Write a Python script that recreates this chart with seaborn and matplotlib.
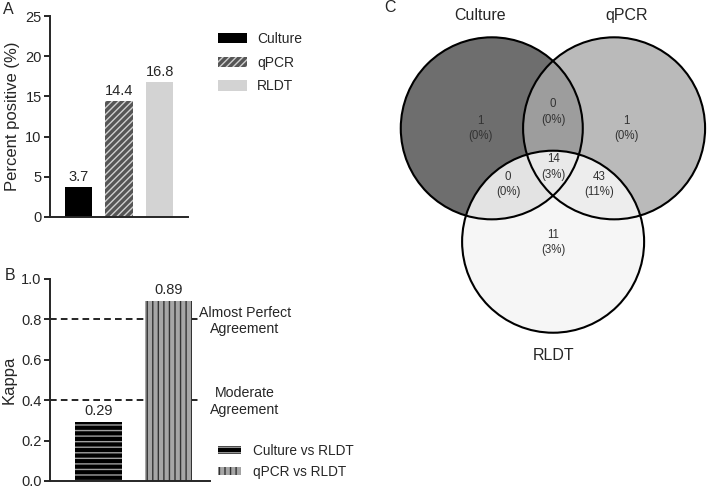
import matplotlib
matplotlib.use('Agg')
import matplotlib.pyplot as plt
import matplotlib.patches as mpatches
import seaborn as sns
import pandas as pd

# data
methods = ['Culture', 'qPCR', 'RLDT']
pct_positive = [3.7, 14.4, 16.8]

comparisons = ['Culture vs RLDT', 'qPCR vs RLDT']
kappa = [0.29, 0.89]
kappa_levels = [0.8, 0.4]
kappa_level_names = ['Almost Perfect\nAgreement', 'Moderate\nAgreement']

venn_sets = ['Culture', 'qPCR', 'RLDT']
venn_regions = ['C', 'CQ', 'Q', 'CQR', 'CR', 'QR', 'R']
venn_counts = [1, 0, 1, 14, 0, 43, 11]
venn_pcts = ['0%', '0%', '0%', '3%', '0%', '11%', '3%']

sns.set_style('ticks')
plt.rcParams['font.family'] = ['Liberation Sans', 'DejaVu Sans']
plt.rcParams['hatch.linewidth'] = 1.0

W, H = 708, 488
fig = plt.figure(figsize=(W / 100, H / 100), dpi=100)

def box(x0, y0, x1, y1):
    # pixel box -> figure fraction
    return [x0 / W, 1 - y1 / H, (x1 - x0) / W, (y1 - y0) / H]

# ---------------- panel A
axA = fig.add_axes(box(50, 16, 188, 217))
dfA = pd.DataFrame({'method': methods, 'pct': pct_positive})
colA = {'Culture': 'black', 'qPCR': '#555555', 'RLDT': '#d3d3d3'}
sns.barplot(data=dfA, x='method', y='pct', hue='method', palette=colA,
            width=0.67, legend=False, ax=axA, saturation=1)
for c in axA.containers:
    for p in c:
        p.set_linewidth(0)
    axA.bar_label(c, fmt='%.1f', padding=2, fontsize=10.5)
qbar = axA.containers[1][0]
qbar.set_hatch('/////')
qbar.set_edgecolor('#cfcfcf')
axA.set_ylim(0, 25)
axA.set_yticks([0, 5, 10, 15, 20, 25])
axA.set_xlim(-0.7, 2.7)
axA.set_xticks([])
axA.set_xlabel('')
axA.set_ylabel('Percent positive (%)', fontsize=12)
axA.yaxis.set_label_coords(-0.215, 0.5)

handlesA = [mpatches.Patch(facecolor='black', lw=0),
            mpatches.Patch(facecolor='#555555', edgecolor='#cfcfcf', hatch='/////', lw=0),
            mpatches.Patch(facecolor='#d3d3d3', lw=0)]
fig.legend(handlesA, methods, loc='upper left', bbox_to_anchor=(218 / W, 1 - 32 / H),
           frameon=False, fontsize=10, handlelength=2.1, handleheight=0.8,
           handletextpad=0.7, labelspacing=0.7, borderpad=0, borderaxespad=0)

# ---------------- panel B
axB = fig.add_axes(box(50, 279, 210, 481))
dfB = pd.DataFrame({'comp': comparisons, 'kappa': kappa})
colB = {'Culture vs RLDT': 'black', 'qPCR vs RLDT': '#a6a6a6'}
sns.barplot(data=dfB, x='comp', y='kappa', hue='comp', palette=colB,
            width=0.67, legend=False, ax=axB, saturation=1)
hatchB = ['---', '|||']
hcolB = ['#a0a0a0', '#333333']
for c, h, hc in zip(axB.containers, hatchB, hcolB):
    for p in c:
        p.set_linewidth(0)
        p.set_hatch(h)
        p.set_edgecolor(hc)
    axB.bar_label(c, fmt='%.2f', padding=3, fontsize=10.5)
axB.set_ylim(0, 1.0)
axB.set_yticks([0, 0.2, 0.4, 0.6, 0.8, 1.0])
axB.set_xlim(-0.69, 1.59)
axB.set_xticks([])
axB.set_xlabel('')
for lvl, name in zip(kappa_levels, kappa_level_names):
    axB.plot([-0.69, 1.45], [lvl, lvl], color='black', lw=1.2,
             ls=(0, (4, 2.5)), clip_on=False, zorder=0)
    axB.text(2.09, lvl - 0.008, name, ha='center', va='center', fontsize=10.2,
             linespacing=1.25, clip_on=False)
axB.set_ylabel('Kappa', fontsize=12)
axB.yaxis.set_label_coords(-0.21, 0.5)

handlesB = [mpatches.Patch(facecolor='black', edgecolor='#a0a0a0', hatch='---', lw=0),
            mpatches.Patch(facecolor='#a6a6a6', edgecolor='#333333', hatch='|||', lw=0)]
fig.legend(handlesB, comparisons, loc='upper left', bbox_to_anchor=(218 / W, 1 - 444 / H),
           frameon=False, fontsize=9.8, handlelength=1.7, handleheight=0.45,
           handletextpad=0.9, labelspacing=0.5, borderpad=0, borderaxespad=0)

for ax in (axA, axB):
    sns.despine(ax=ax)
    for s in ('left', 'bottom'):
        ax.spines[s].set_linewidth(1.4)
    ax.tick_params(axis='y', length=4, width=1.4, labelsize=10.5, pad=2)

# ---------------- panel C (venn)
axC = fig.add_axes(box(360, 0, 708, 420))
r = 1.0
centers = {'Culture': (-0.674, 0.0), 'qPCR': (0.67, 0.0), 'RLDT': (0.0, -1.246)}
fills = {'Culture': ('#6e6e6e', 1.0), 'qPCR': ('#a9a9a9', 0.8), 'RLDT': ('#f5f5f5', 0.87)}
for s in venn_sets:
    fc, a = fills[s]
    axC.add_patch(mpatches.Circle(centers[s], r, facecolor=fc, alpha=a, lw=0))
for s in venn_sets:
    axC.add_patch(mpatches.Circle(centers[s], r, fill=False, edgecolor='black', lw=1.5))

set_label_pos = {'Culture': (-0.80, 1.245), 'qPCR': (0.81, 1.245), 'RLDT': (0.0, -2.5)}
for s in venn_sets:
    axC.text(*set_label_pos[s], s, ha='center', va='center', fontsize=11.5)

region_pos = {'C': (-0.795, 0.0), 'CQ': (0.0, 0.18), 'Q': (0.81, 0.0),
              'CQR': (0.0, -0.425), 'CR': (-0.495, -0.62), 'QR': (0.505, -0.62),
              'R': (0.0, -1.25)}
for reg, n, pc in zip(venn_regions, venn_counts, venn_pcts):
    axC.text(*region_pos[reg], f'{n}\n({pc})', ha='center', va='center',
             fontsize=8.3, color='#333333', linespacing=1.35)

axC.set_xlim(-2.12, 1.70)
axC.set_ylim(-3.205, 1.41)
axC.set_aspect('equal')
axC.axis('off')

# panel letters
fig.text(3 / W, 1 - 9 / H, 'A', fontsize=11.5, va='center')
fig.text(5 / W, 1 - 276 / H, 'B', fontsize=11.5, va='center')
fig.text(384 / W, 1 - 8 / H, 'C', fontsize=11.5, va='center')

fig.savefig('out.png', dpi=100)
